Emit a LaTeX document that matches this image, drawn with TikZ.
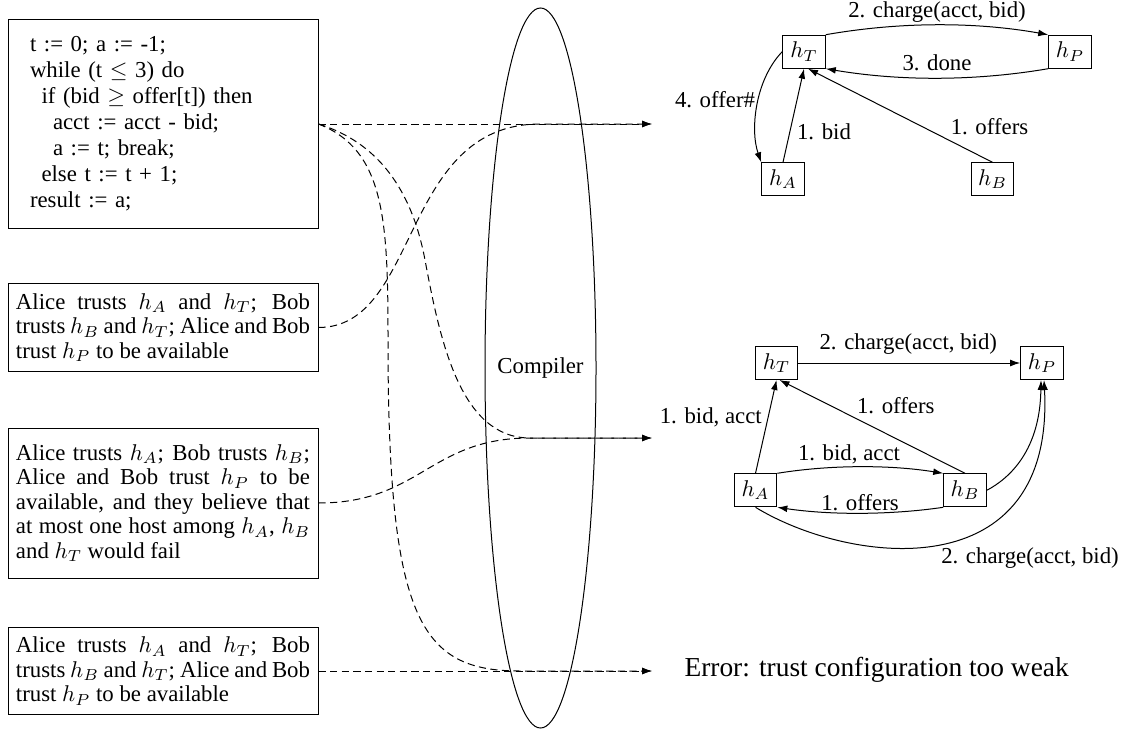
\documentclass[tikz,border=0pt]{standalone}
\usepackage{fix-cm}
\usepackage{fontspec}
\setmainfont{Liberation Serif}
\usetikzlibrary{arrows.meta,calc}

\begin{document}
\begin{tikzpicture}[x=0.5pt,y=-0.5pt,line width=0.5pt,
  every node/.style={font=\fontsize{11.4}{12.3}\selectfont},
  arrowed/.style={-{Latex[length=5pt,width=3.4pt]}},
  flowline/.style={arrowed,dash pattern=on 3.6pt off 2.2pt},
  spec/.style={draw,text width=147pt,inner xsep=4pt,inner ysep=4.75pt,align=justify},
  hostbox/.style={draw,minimum width=21.3pt,minimum height=16.5pt,inner sep=1pt},
  lbl/.style={inner sep=0pt}]
\useasboundingbox (0,0) rectangle (1128,733);

% source program
\node[draw,text width=133pt,inner xsep=11pt,inner ysep=0pt,minimum height=104pt,align=left,
  font=\fontsize{11.4}{13}\selectfont] (code) at (163,124) {%
t := 0; a := -1;\\
while (t $\leq$ 3) do\\
\hspace*{5.75pt}if (bid $\geq$ offer[t]) then\\
\hspace*{11.5pt}acct := acct - bid;\\
\hspace*{11.5pt}a := t; break;\\
\hspace*{5.75pt}else t := t + 1;\\
result := a;};

% trust configurations
\node[spec] (cfgA) at (163,327.5) {Alice trusts $h_A$ and $h_T$; Bob\linebreak
  trusts $h_B$ and $h_T$; Alice and Bob\linebreak trust $h_P$ to be available};
\node[spec,minimum height=75pt] (cfgB) at (163,503) {Alice trusts $h_A$; Bob trusts $h_B$;\linebreak
  Alice and Bob trust $h_P$ to be\linebreak available, and they believe that\linebreak
  at most one host among $h_A$, $h_B$\linebreak and $h_T$ would fail};
\node[spec] (cfgC) at (163,671) {Alice trusts $h_A$ and $h_T$; Bob\linebreak
  trusts $h_B$ and $h_T$; Alice and Bob\linebreak trust $h_P$ to be available};

% the compiler
\node[inner sep=0pt] (compiler) at (540.5,368) {Compiler};
\draw (compiler.center) ellipse [x radius=27.75pt, y radius=180pt];

% where the results arrive
\coordinate (outA) at (652,124);
\coordinate (outB) at (652,438);
\coordinate (outC) at (652,671);

% program and configurations into the compiler
\draw[flowline] (code.east) -- (outA);
\draw[flowline] (cfgA.east) .. controls (420,327.5) and (400,124) .. (540,124) -- (outA);
\draw[flowline] (code.east) .. controls (370,140) and (410,180) .. (425,260)
  .. controls (440,340) and (460,438) .. (530,438) -- (outB);
\draw[flowline] (cfgB.east) .. controls (420,503) and (430,438) .. (530,438) -- (outB);
\draw[flowline] (code.east) .. controls (385,150) and (388,220) .. (388,340)
  .. controls (388,620) and (420,671) .. (520,671) -- (outC);
\draw[flowline] (cfgC.east) -- (outC);

% first partition
\node[hostbox] (hT1) at (804,51.7) {$h_T$};
\node[hostbox] (hP1) at (1070,51.7) {$h_P$};
\node[hostbox] (hA1) at (783,179.3) {$h_A$};
\node[hostbox] (hB1) at (992.5,179.3) {$h_B$};
\draw[arrowed] (hT1.north east) .. controls (900,21.7) and (975,21.7) .. (hP1.north west)
  node[lbl] (m1) at (937,12) {2. charge(acct, bid)};
\draw[arrowed] (hP1.south west) .. controls (975,81.2) and (900,81.2) .. (hT1.south east)
  node[lbl] (m2) at (937,63) {3. done};
\draw[arrowed] (hT1.west) .. controls (755,80) and (750,130) .. (hA1.north west)
  node[lbl] (m3) at (715,100) {4. offer\#};
\draw[arrowed] (hA1.north) -- (hT1.south)
  node[lbl] (m4) at (824,131.7) {1. bid};
\draw[arrowed] (hB1.north) -- ($(hT1.south)+(4,0)$)
  node[lbl] (m5) at (989.5,126.7) {1. offers};

% second partition
\node[hostbox] (hT2) at (776.5,363) {$h_T$};
\node[hostbox] (hP2) at (1042,363) {$h_P$};
\node[hostbox] (hA2) at (755.5,490.3) {$h_A$};
\node[hostbox] (hB2) at (965,490.3) {$h_B$};
\draw[arrowed] (hT2.east) -- (hP2.west)
  node[lbl] (n1) at (908.3,344.3) {2. charge(acct, bid)};
\draw[arrowed] (hA2.north) -- (hT2.south)
  node[lbl] (n2) at (710.8,417.3) {1. bid, acct};
\draw[arrowed] (hB2.north) -- ($(hT2.south)+(3,0)$)
  node[lbl] (n3) at (895.8,406) {1. offers};
\draw[arrowed] (hA2.north east) .. controls (830,464.7) and (890,464.7) .. (hB2.north west)
  node[lbl] (n4) at (849,454) {1. bid, acct};
\draw[arrowed] (hB2.south west) .. controls (890,515.1) and (830,515.1) .. (hA2.south east)
  node[lbl] (n5) at (860,502.7) {1. offers};
\draw[arrowed] (hB2.east) .. controls (1010,478) and (1040,450) .. ($(hP2.south)+(-1,0)$);
\draw[arrowed] (hA2.south) .. controls (850,565) and (1055,590) .. ($(hP2.south)+(2,0)$)
  node[lbl] (n6) at (1030,558) {2. charge(acct, bid)};

% rejected configuration
\node[anchor=west,inner sep=0pt,font=\fontsize{13.7}{16}\selectfont] (err) at (684,670)
  {Error: trust configuration too weak};
\end{tikzpicture}
\end{document}
